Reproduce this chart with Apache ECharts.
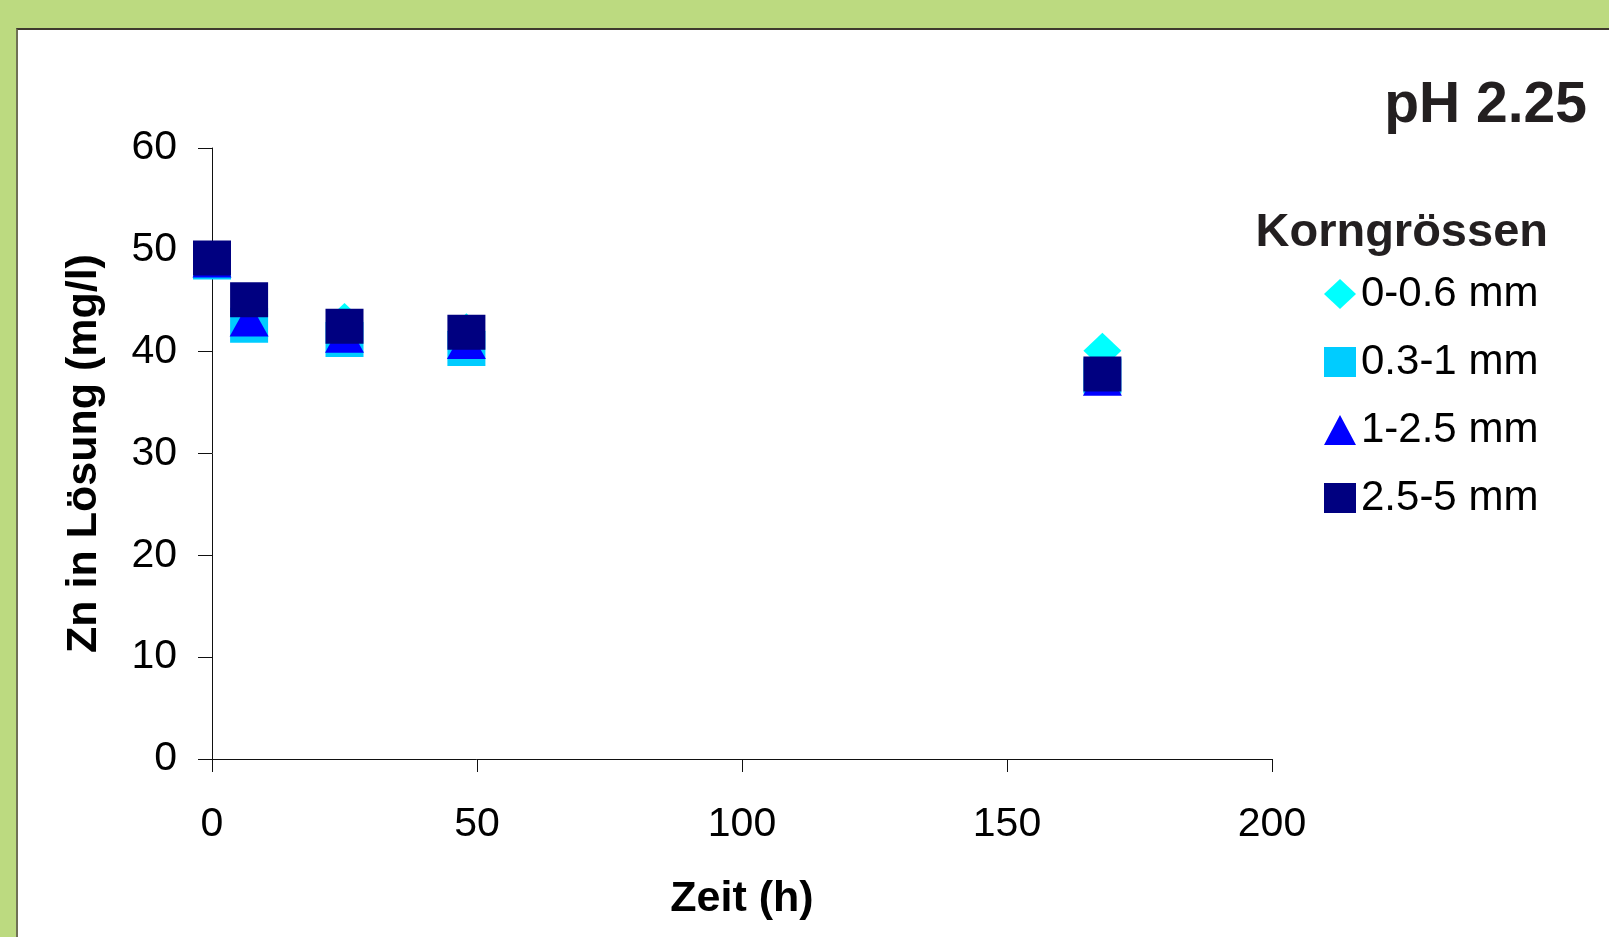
<!DOCTYPE html>
<html>
<head>
<meta charset="utf-8">
<script src="https://cdn.jsdelivr.net/npm/echarts@6/dist/echarts.min.js"></script>
<style>
  html, body { margin: 0; padding: 0; width: 1609px; height: 937px; overflow: hidden; background: #bcda80; }
  #panel { position: absolute; left: 16px; top: 28px; right: 0; bottom: 0; background: #ffffff;
           border-top: 2px solid #3f3a2e; border-left: 2px solid #6f7055; }
  #chart { position: absolute; left: 0; top: 0; width: 1609px; height: 937px; }
</style>
</head>
<body>
<div id="panel"></div>
<div id="chart"></div>
<script>
// Zinc in solution over time, one series per grain size class
const hours = [0, 7, 25, 48, 168];
const fine = [49.0, 43.5, 43.0, 42.0, 40.1];      // 0-0.6 mm
const medium = [48.8, 42.6, 41.2, 40.3, 37.6];    // 0.3-1 mm
const coarse = [49.0, 43.2, 41.6, 41.0, 37.4];    // 1-2.5 mm
const gravel = [49.2, 45.1, 42.5, 41.9, 37.8];    // 2.5-5 mm
const seriesNames = ['0-0.6 mm', '0.3-1 mm', '1-2.5 mm', '2.5-5 mm'];
const xTicks = [0, 50, 100, 150, 200];
const yTicks = [0, 10, 20, 30, 40, 50, 60];

const FONT = '"Liberation Sans", Arial, Helvetica, sans-serif';
const pairs = (ys) => hours.map((h, i) => [h, ys[i]]);

const chart = echarts.init(document.getElementById('chart'), null, { renderer: 'canvas' });

const axisLine = { show: true, lineStyle: { color: '#111', width: 1 } };

chart.setOption({
  animation: false,
  backgroundColor: 'transparent',
  textStyle: { fontFamily: FONT },
  grid: { left: 212, top: 148, width: 1060, height: 611, containLabel: false },
  xAxis: {
    type: 'value',
    min: xTicks[0], max: xTicks[xTicks.length - 1], interval: 50,
    name: 'Zeit (h)', nameLocation: 'middle', nameGap: 119,
    nameTextStyle: { fontFamily: FONT, fontSize: 43, fontWeight: 'bold', color: '#000' },
    axisLine: axisLine,
    axisTick: { show: true, length: 13, inside: false, lineStyle: { color: '#111', width: 1 } },
    axisLabel: { fontFamily: FONT, fontSize: 41, color: '#000', margin: 45 },
    splitLine: { show: false }
  },
  yAxis: {
    type: 'value',
    min: yTicks[0], max: yTicks[yTicks.length - 1], interval: 10,
    name: 'Zn in Lösung (mg/l)', nameLocation: 'middle', nameGap: 106,
    nameTextStyle: { fontFamily: FONT, fontSize: 43, fontWeight: 'bold', color: '#000' },
    axisLine: axisLine,
    axisTick: { show: true, length: 14, inside: false, lineStyle: { color: '#111', width: 1 } },
    axisLabel: { fontFamily: FONT, fontSize: 41, color: '#000', margin: 35, padding: [6, 0, 0, 0] },
    splitLine: { show: false }
  },
  legend: {
    orient: 'vertical',
    left: 1319, top: 268,
    itemWidth: 32, itemHeight: 30, itemGap: 26,
    textStyle: { fontFamily: FONT, fontSize: 42, color: '#000', lineHeight: 42 },
    data: seriesNames
  },
  graphic: [
    { type: 'text', style: { x: 1587, y: 106, text: 'pH 2.25', textAlign: 'right', textVerticalAlign: 'middle',
      font: 'bold 57px ' + FONT, fill: '#231f20' } },
    { type: 'text', style: { x: 1548, y: 233, text: 'Korngrössen', textAlign: 'right', textVerticalAlign: 'middle',
      font: 'bold 47px ' + FONT, fill: '#231f20' } }
  ],
  series: [
    { name: seriesNames[0], type: 'scatter', data: pairs(fine), symbol: 'diamond', symbolSize: [38, 36],
      itemStyle: { color: '#00ffff', opacity: 1 } },
    { name: seriesNames[1], type: 'scatter', data: pairs(medium), symbol: 'rect', symbolSize: [38, 35],
      itemStyle: { color: '#00ccff', opacity: 1 } },
    { name: seriesNames[2], type: 'scatter', data: pairs(coarse), symbol: 'triangle', symbolSize: [39, 35],
      itemStyle: { color: '#0000ff', opacity: 1 } },
    { name: seriesNames[3], type: 'scatter', data: pairs(gravel), symbol: 'rect', symbolSize: [38, 35],
      itemStyle: { color: '#000080', opacity: 1 } }
  ]
});
</script>
</body>
</html>
